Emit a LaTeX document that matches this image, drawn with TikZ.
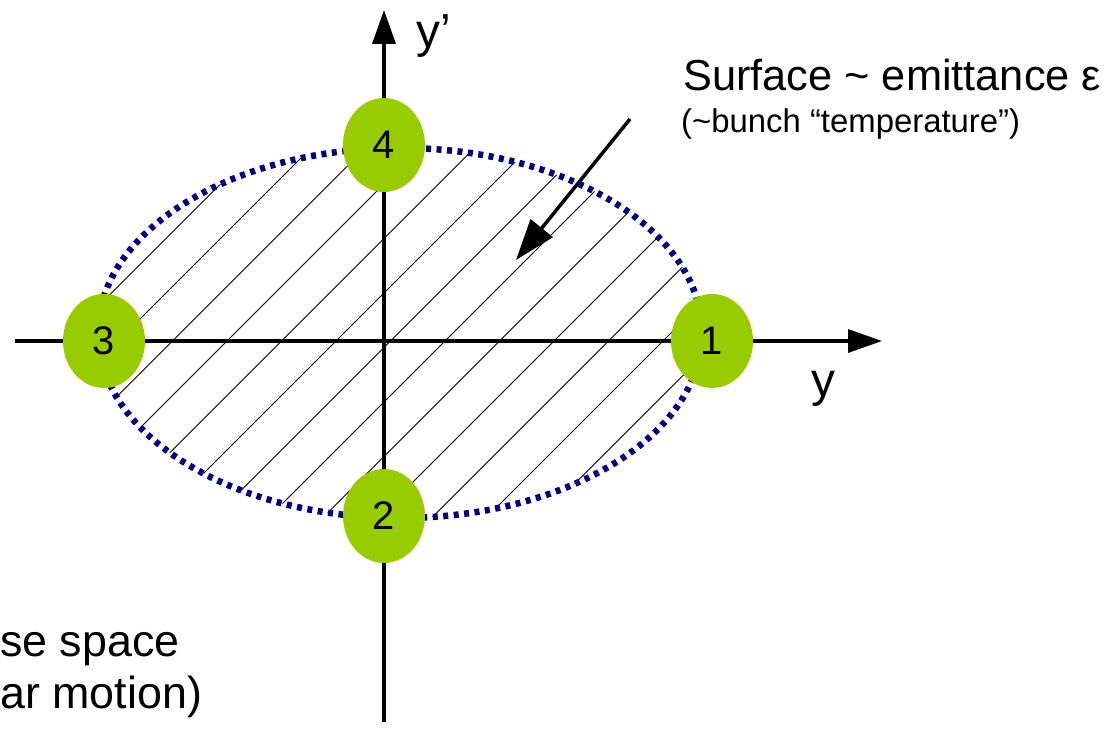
\documentclass[tikz,border=0pt]{standalone}
\usepackage{fontspec}
\setmainfont{Liberation Sans}
\usepackage{tikz}
\usetikzlibrary{shapes.geometric}
\usetikzlibrary{arrows.meta}

\definecolor{phasegreen}{RGB}{153,204,0}
\definecolor{phasenavy}{RGB}{0,0,128}

\begin{document}
\begin{tikzpicture}
    \tikzset{point/.style={ellipse, minimum width=82bp, minimum height=94bp, fill=phasegreen, inner sep=0pt, font=\fontsize{40}{46}\selectfont}};
    \tikzset{axis/.style={line width=3.5bp, -{Triangle[length=34bp,width=23bp]}}};
    \tikzset{pointer/.style={line width=3.5bp, -{Triangle[length=41bp,width=28bp]}}};
    \tikzset{hatch/.style={line width=0.8bp}};
    \tikzset{boundary/.style={phasenavy, line width=6.5bp, dash pattern=on 5bp off 5.5bp}};
    \tikzset{axislbl/.style={inner sep=0pt, font=\fontsize{48}{56}\selectfont}};
    \tikzset{headlbl/.style={inner sep=0pt, anchor=base west, font=\fontsize{43.5}{52}\selectfont}};
    \tikzset{sublbl/.style={inner sep=0pt, anchor=base west, font=\fontsize{33}{40}\selectfont}};
    \tikzset{phaselbl/.style={inner sep=0pt, anchor=base west, font=\fontsize{45}{54}\selectfont}};
%%
\useasboundingbox (0,0) rectangle (1105bp,735bp);

%% hatched surface
\begin{scope}
  \clip (400bp,402bp) ellipse [x radius=302bp, y radius=185bp];
  \foreach \k in {-2,...,12} {
    \pgfmathsetmacro{\hx}{118+54.5*\k-260}
    \draw [hatch] (\hx bp,134bp) -- ++(520bp,520bp);
  }
\end{scope}
\draw [boundary] (400bp,402bp) ellipse [x radius=302bp, y radius=185bp];

%% axes
\coordinate (yl) at (15bp,394bp);
\coordinate (yr) at (882bp,394bp);
\coordinate (yb) at (384bp,13bp);
\coordinate (yt) at (384bp,725bp);
  \draw [axis] (yl) -- (yr);
  \draw [axis] (yb) -- (yt);

\node (1) at (712bp,394bp) [point] {1};
  \node (2) at (384bp,219bp) [point] {2};
  \node (3) at (104bp,394bp) [point] {3};
  \node (4) at (384bp,590bp) [point] {4};

\node (yp) at (416bp,687bp) [axislbl, anchor=base west] {y’};
  \node (y) at (811bp,338bp) [axislbl, anchor=base west] {y};

%% emittance note
\node (surf) at (683bp,644bp) [headlbl] {Surface \textasciitilde{} emittance ε};
  \node (temp) at (681bp,602bp) [sublbl] {(\textasciitilde bunch “temperature”)};
\coordinate (from) at (630bp,616bp);
\coordinate (to) at (516bp,475bp);
  \draw [pointer] (from) -- (to);

\node (ph1) at (0bp,78bp) [phaselbl] {se space};
  \node (ph2) at (0bp,27bp) [phaselbl] {ar motion)};
\end{tikzpicture}
\end{document}
